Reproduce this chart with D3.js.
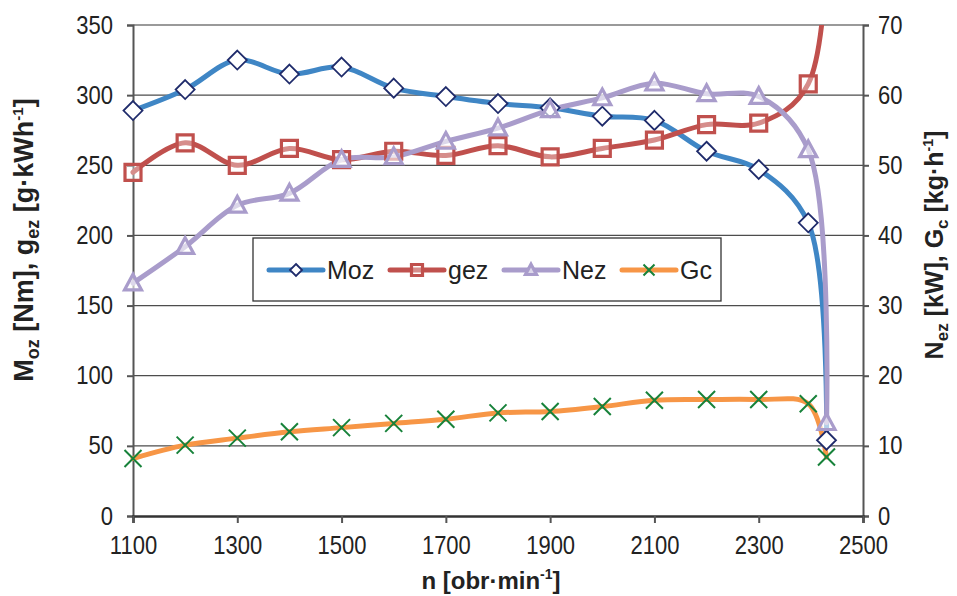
<!DOCTYPE html>
<html>
<head>
<meta charset="utf-8">
<script src="https://cdn.jsdelivr.net/npm/d3@7"></script>
<style>
  html, body { margin: 0; padding: 0; background: #fff; }
  svg { display: block; font-family: "Liberation Sans", Arial, sans-serif; }
</style>
</head>
<body>
<svg id="chart" width="957" height="596"></svg>
<script>
// Engine speed [obr/min]
const rpm = [1100, 1200, 1300, 1400, 1500, 1600, 1700, 1800, 1900, 2000, 2100, 2200, 2300, 2395, 2430];
// Torque Moz [Nm] (left axis)
const moz = [289, 304, 325, 315, 320, 305, 299, 294, 291, 285, 282, 260, 247, 209, 54];
// Specific fuel consumption gez [g/kWh] (left axis)
const gez = [245, 266, 250, 262, 254, 260, 257, 264, 256, 262, 268, 279, 280, 308, 600];
// Power Nez [kW] (right axis)
const nez = [33.2, 38.4, 44.3, 46.0, 50.8, 51.2, 53.4, 55.3, 57.9, 59.6, 61.7, 60.2, 59.8, 52.2, 13.3];
// Hourly fuel consumption Gc [kg/h] (right axis)
const gc = [8.2, 10.1, 11.1, 12.0, 12.6, 13.2, 13.8, 14.7, 14.9, 15.6, 16.5, 16.6, 16.6, 16.0, 8.4];

const xTicks = [1100, 1300, 1500, 1700, 1900, 2100, 2300, 2500];
const leftTicks = [0, 50, 100, 150, 200, 250, 300, 350];
const rightTicks = [0, 10, 20, 30, 40, 50, 60, 70];

const svg = d3.select("#chart");
const L = 133, R = 863, T = 25, B = 516;

const x = d3.scaleLinear().domain([1100, 2500]).range([L, R]);
const yL = d3.scaleLinear().domain([0, 350]).range([B, T]);
const yR = d3.scaleLinear().domain([0, 70]).range([B, T]);

const tickFont = 25, squeeze = 0.88;

// horizontal grid
svg.append("g").selectAll("line").data(leftTicks.filter(d => d > 0 && d < 350)).join("line")
  .attr("x1", L).attr("x2", R).attr("y1", d => yL(d)).attr("y2", d => yL(d))
  .attr("stroke", "#4d4d4d").attr("stroke-width", 1.3);
// top border
svg.append("line").attr("x1", L).attr("x2", R).attr("y1", T).attr("y2", T)
  .attr("stroke", "#9a9a9a").attr("stroke-width", 2);

// axes
const axL = svg.append("g").attr("transform", `translate(${L},0)`)
  .call(d3.axisLeft(yL).tickValues(leftTicks).tickSize(6).tickPadding(14));
const axR = svg.append("g").attr("transform", `translate(${R},0)`)
  .call(d3.axisRight(yR).tickValues(rightTicks).tickSize(6).tickPadding(9));
const axB = svg.append("g").attr("transform", `translate(0,${B})`)
  .call(d3.axisBottom(x).tickValues(xTicks).tickFormat(d3.format("d")).tickSize(7).tickPadding(13));

[axL, axR, axB].forEach(a => {
  a.select(".domain").attr("stroke", "#555").attr("stroke-width", 2);
  a.selectAll(".tick line").attr("stroke", "#555").attr("stroke-width", 2);
  a.selectAll(".tick text").attr("fill", "#222").attr("font-size", tickFont)
    .attr("font-family", "'Liberation Sans', Arial, sans-serif");
});
axB.select(".domain").attr("stroke", "#333").attr("stroke-width", 2.5);
// slightly condensed tick digits
axL.selectAll(".tick text").attr("x", -20 / squeeze).attr("transform", `scale(${squeeze},1)`);
axR.selectAll(".tick text").attr("x", 15 / squeeze).attr("transform", `scale(${squeeze},1)`);
axB.selectAll(".tick text").attr("transform", `scale(${squeeze},1)`);

// axis titles
function title(sel, parts) {
  parts.forEach(p => {
    const t = sel.append("tspan").text(p.t);
    if (p.fs) t.attr("font-size", p.fs);
    if (p.dy) t.attr("dy", p.dy);
  });
}
const lt = svg.append("text").attr("transform", "translate(33,240) rotate(-90)")
  .attr("text-anchor", "middle").attr("font-weight", "bold").attr("font-size", 27).attr("fill", "#222");
title(lt, [{ t: "M" }, { t: "oz", fs: 18, dy: 6 }, { t: " [Nm], g", dy: -6 }, { t: "ez", fs: 18, dy: 6 },
  { t: " [g·kWh", dy: -6 }, { t: "-1", fs: 15, dy: -10 }, { t: "]", dy: 10 }]);

const rt = svg.append("text").attr("transform", "translate(943,245) rotate(-90)")
  .attr("text-anchor", "middle").attr("font-weight", "bold").attr("font-size", 25).attr("fill", "#222");
title(rt, [{ t: "N" }, { t: "ez", fs: 17, dy: 5 }, { t: " [kW], G", dy: -5 }, { t: "c", fs: 17, dy: 5 },
  { t: " [kg·h", dy: -5 }, { t: "-1", fs: 14, dy: -10 }, { t: "]", dy: 10 }]);

const bt = svg.append("text").attr("x", 491).attr("y", 589)
  .attr("text-anchor", "middle").attr("font-weight", "bold").attr("font-size", 24).attr("fill", "#222");
title(bt, [{ t: "n [obr·min" }, { t: "-1", fs: 14, dy: -10 }, { t: "]", dy: 10 }]);

// clip to plot area
svg.append("clipPath").attr("id", "plotclip").append("rect")
  .attr("x", L - 15).attr("y", T).attr("width", R - L + 30).attr("height", B - T + 15);
const plot = svg.append("g").attr("clip-path", "url(#plotclip)");

const series = [
  { name: "Moz", vals: moz, y: yL, line: "#3f86c5", mk: "diamond", mkc: "#1f2b6b" },
  { name: "gez", vals: gez, y: yL, line: "#c0504d", mk: "square", mkc: "#c0504d" },
  { name: "Nez", vals: nez, y: yR, line: "#a99ccb", mk: "triangle", mkc: "#a99ccb" },
  { name: "Gc", vals: gc, y: yR, line: "#f79646", mk: "cross", mkc: "#17823a" }
];

function markerPath(type, s) {
  if (type === "diamond") return `M0,${-s}L${s},0L0,${s}L${-s},0Z`;
  if (type === "square") return `M${-s},${-s}H${s}V${s}H${-s}Z`;
  if (type === "triangle") return `M0,${-s * 1.05}L${s},${s * 0.8}L${-s},${s * 0.8}Z`;
  return `M${-s},${-s}L${s},${s}M${s},${-s}L${-s},${s}`;
}
function drawMarker(g, type, color, s) {
  const p = g.append("path").attr("d", markerPath(type, s));
  if (type === "diamond") p.attr("fill", "#fff").attr("stroke", color).attr("stroke-width", 1.8);
  else if (type === "square") p.attr("fill", "#fff").attr("fill-opacity", 0.35).attr("stroke", color).attr("stroke-width", 3.2);
  else if (type === "triangle") p.attr("fill", "#fff").attr("fill-opacity", 0.6).attr("stroke", color).attr("stroke-width", 3.2);
  else p.attr("fill", "none").attr("stroke", color).attr("stroke-width", 2);
}
const mkSize = { diamond: 9.5, square: 8, triangle: 8.5, cross: 8.5 };

series.forEach(s => {
  const pts = rpm.map((r, i) => [x(r), s.y(s.vals[i])]);
  plot.append("path")
    .attr("d", d3.line().curve(d3.curveCatmullRom.alpha(0.5))(pts))
    .attr("fill", "none").attr("stroke", s.line).attr("stroke-width", 5)
    .attr("stroke-linejoin", "round").attr("stroke-linecap", "round");
});
series.forEach(s => {
  rpm.forEach((r, i) => {
    const g = plot.append("g").attr("transform", `translate(${x(r)},${s.y(s.vals[i])})`);
    drawMarker(g, s.mk, s.mkc, mkSize[s.mk]);
  });
});

// legend
const lg = svg.append("g");
lg.append("rect").attr("x", 253).attr("y", 238).attr("width", 468).attr("height", 63)
  .attr("fill", "#fff").attr("stroke", "#333").attr("stroke-width", 1.3);
const legX = [269, 390, 504, 622];
series.forEach((s, i) => {
  const cy = 270;
  lg.append("line").attr("x1", legX[i]).attr("x2", legX[i] + 54).attr("y1", cy).attr("y2", cy)
    .attr("stroke", s.line).attr("stroke-width", 5).attr("stroke-linecap", "round");
  const g = lg.append("g").attr("transform", `translate(${legX[i] + 27},${cy})`);
  drawMarker(g, s.mk, s.mkc, s.mk === "diamond" ? 6 : 5.5);
  lg.append("text").attr("x", legX[i] + 58).attr("y", cy + 9).attr("font-size", 25)
    .attr("fill", "#222").text(s.name);
});
</script>
</body>
</html>
